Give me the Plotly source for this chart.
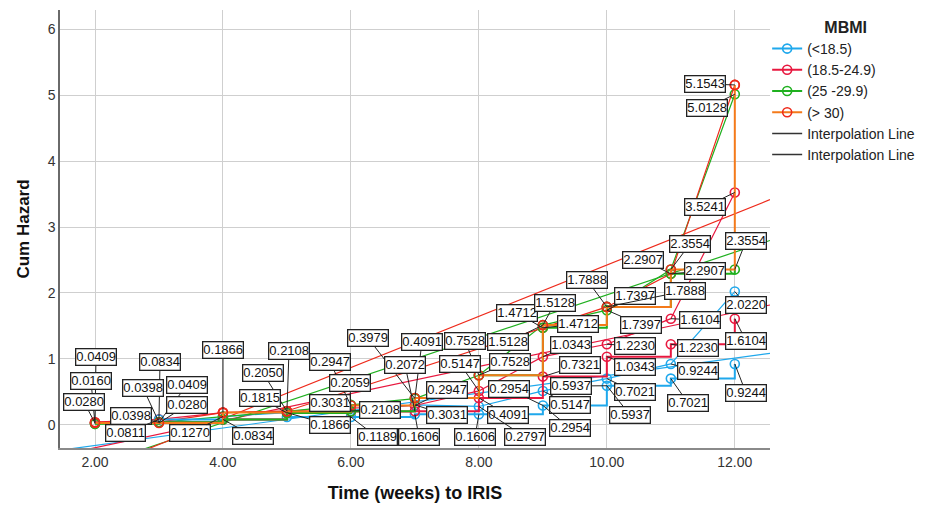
import numpy as np
import plotly.graph_objects as go

# ---------------- data ----------------
times = [2, 3, 4, 5, 6, 7, 8, 9, 10, 11, 12]

cyan_step   = [None, 0.0811, 0.0834, 0.1189, 0.1189, 0.1606, 0.1606, 0.2954, 0.5937, 0.7021, 0.9244]
cyan_line   = [None, None, 0.1270, 0.1866, 0.2108, 0.3031, 0.2797, 0.5147, 0.7021, 0.9244, 2.0220]
crim_step   = [0.0280, 0.0398, 0.0834, 0.1815, 0.2050, 0.2072, 0.4091, 0.7321, 1.0343, 1.2230, 1.6104]
crim_line   = [0.0409, 0.0834, 0.1866, 0.2108, None, 0.2947, 0.5147, 1.0343, 1.2230, 1.6104, 3.5241]
green_step  = [0.0160, 0.0409, 0.0834, 0.1815, 0.2059, 0.4091, 0.7528, 1.4712, 1.7888, 2.2907, 2.3554]
green_line  = [0.0160, 0.0398, 0.1270, 0.2050, 0.3031, 0.3979, 0.7528, 1.5128, 1.7397, 2.3554, 5.0128]
orange_step = [0.0280, 0.0280, 0.1866, 0.2050, 0.2947, 0.4091, 0.7528, 1.5128, 1.7888, 2.3554, 5.1543]
orange_line = [0.0409, 0.0409, 0.1866, 0.2108, None, None, None, 1.4712, 1.7888, 2.2907, 5.1543]

group_names = ["(<18.5)", "(18.5-24.9)", "(25 -29.9)", "(> 30)"]
x_ticks = [2, 4, 6, 8, 10, 12]
y_ticks = [0, 1, 2, 3, 4, 5, 6]

series = {
    "cyan_step": cyan_step, "cyan_line": cyan_line,
    "crim_step": crim_step, "crim_line": crim_line,
    "green_step": green_step, "green_line": green_line,
    "orange_step": orange_step, "orange_line": orange_line,
}

# ---------------- styling ----------------
X0, X1 = 1.453, 12.55
Y0, Y1 = -0.35, 6.29
L, R, T, B = 60, 165, 10, 58
W, H = 935, 506

groups = [
    # name, step key, line key, step colour, line colour, marker colour
    (group_names[0], "cyan_step", "cyan_line", "#1FA8EC", "#1FA8EC", "#1FA8EC"),
    (group_names[1], "crim_step", "crim_line", "#E8183F", "#E8183F", "#E8183F"),
    (group_names[2], "green_step", "green_line", "#1FB01F", "#1FB01F", "#1FB01F"),
    (group_names[3], "orange_step", "orange_line", "#F47A1A", "#EE2A1B", "#EE2A1B"),
]

fig = go.Figure()

# linear fit lines (drawn under everything)
for name, sk, lk, sc, lc, mc in groups:
    xs, ys = [], []
    for key in (sk, lk):
        for t, v in zip(times, series[key]):
            if v is not None:
                xs.append(t)
                ys.append(v)
    b1, b0 = np.polyfit(xs, ys, 1)
    fig.add_trace(go.Scatter(x=[X0, X1], y=[b0 + b1 * X0, b0 + b1 * X1], mode="lines",
                             line=dict(color=lc, width=1.2), showlegend=False,
                             hoverinfo="skip"))

# straight interpolation lines
for name, sk, lk, sc, lc, mc in groups:
    fig.add_trace(go.Scatter(x=times, y=series[lk], mode="lines+markers",
                             connectgaps=True,
                             line=dict(color=lc, width=1.2),
                             marker=dict(symbol="circle-open", size=9, color=mc,
                                         line=dict(width=1.6, color=mc)),
                             showlegend=False))

# step interpolation lines (legend entries)
for name, sk, lk, sc, lc, mc in groups:
    fig.add_trace(go.Scatter(x=times, y=series[sk], mode="lines+markers",
                             line=dict(color=sc, width=2, shape="hv"),
                             marker=dict(symbol="circle-open", size=9, color=mc,
                                         line=dict(width=1.6, color=mc)),
                             name=name, showlegend=True))

fig.add_trace(go.Scatter(x=[None], y=[None], mode="lines",
                         line=dict(color="#333333", width=1.5),
                         name="Interpolation Line"))
fig.add_trace(go.Scatter(x=[None], y=[None], mode="lines",
                         line=dict(color="#333333", width=1.5, shape="hv"),
                         name="Interpolation Line "))

# ---------------- value labels ----------------
# (series, time, label centre in px of the 935x506 picture)
label_specs = [
    ("crim_line", 2, 96, 357), ("green_step", 2, 91, 381), ("orange_step", 2, 84, 402),
    ("crim_line", 3, 160, 362), ("crim_step", 3, 143, 388), ("green_step", 3, 187, 385),
    ("orange_step", 3, 187, 405), ("green_line", 3, 131, 416), ("cyan_step", 3, 125, 433),
    ("orange_step", 4, 223, 350), ("cyan_line", 4, 190, 433), ("cyan_step", 4, 253, 436),
    ("crim_line", 5, 289, 351), ("orange_step", 5, 263, 373), ("green_step", 5, 260, 398),
    ("cyan_line", 5, 330, 425), ("green_line", 6, 330, 403), ("orange_step", 6, 330, 362),
    ("green_step", 6, 350, 383), ("cyan_line", 6, 380, 410), ("cyan_step", 6, 377, 437),
    ("green_line", 7, 368, 338), ("orange_step", 7, 422, 342), ("crim_step", 7, 405, 365),
    ("crim_line", 7, 447, 390), ("cyan_line", 7, 447, 415), ("cyan_step", 7, 419, 437),
    ("green_line", 8, 465, 341), ("crim_line", 8, 460, 364), ("green_line", 9, 508, 342),
    ("orange_step", 8, 510, 362), ("cyan_step", 9, 509, 389), ("crim_step", 8, 508, 415),
    ("cyan_step", 8, 475, 437), ("cyan_line", 8, 525, 437),
    ("orange_line", 9, 517, 313), ("orange_step", 9, 555, 303), ("green_step", 9, 578, 324),
    ("crim_line", 9, 571, 345), ("crim_step", 9, 580, 365), ("cyan_step", 10, 571, 386),
    ("cyan_line", 9, 570, 405), ("cyan_step", 9, 570, 428),
    ("green_step", 10, 587, 280), ("green_line", 10, 635, 296), ("green_line", 10, 641, 325),
    ("crim_line", 10, 635, 346), ("crim_step", 10, 635, 367), ("cyan_line", 10, 635, 392),
    ("cyan_step", 10, 630, 415),
    ("orange_line", 11, 643, 260), ("orange_step", 11, 690, 244), ("green_step", 11, 705, 271),
    ("orange_step", 10, 685, 291), ("crim_line", 11, 700, 320), ("crim_step", 11, 698, 348),
    ("cyan_line", 11, 698, 371), ("cyan_step", 11, 688, 403),
    ("orange_step", 12, 705, 84), ("green_line", 12, 707, 108), ("crim_line", 12, 705, 207),
    ("green_step", 12, 746, 241), ("cyan_line", 12, 746, 305), ("crim_step", 12, 746, 341),
    ("cyan_step", 12, 746, 393),
]


def px_to_data(px, py):
    tx = X0 + (px - L) / (W - L - R) * (X1 - X0)
    ty = Y1 - (py - T) / (H - T - B) * (Y1 - Y0)
    return tx, ty


annotations = []
for key, t, px, py in label_specs:
    v = series[key][times.index(t)]
    ax, ay = px_to_data(px, py)
    annotations.append(dict(
        x=t, y=v, xref="x", yref="y", ax=ax, ay=ay, axref="x", ayref="y",
        text=f"{v:.4f}", showarrow=True, arrowhead=0, arrowwidth=1,
        arrowcolor="#222222", standoff=0,
        font=dict(family="Liberation Sans, Arial", size=13, color="#111111"),
        bgcolor="white", bordercolor="#222222", borderwidth=1.3, borderpad=0,
    ))

fig.update_layout(
    width=W, height=H,
    margin=dict(l=L, r=R, t=T, b=B, autoexpand=False),
    paper_bgcolor="white", plot_bgcolor="white",
    font=dict(family="Liberation Sans, Arial", color="#222222"),
    annotations=annotations,
    legend=dict(
        x=0.996, y=0.995, xanchor="left", yanchor="top",
        font=dict(size=14, color="#222222"),
        title=dict(text="<b>MBMI</b>", side="top center", font=dict(size=16)),
        tracegroupgap=0, itemwidth=30, bgcolor="rgba(0,0,0,0)",
    ),
    xaxis=dict(
        range=[X0, X1], tickvals=x_ticks, tickformat=".2f",
        showgrid=True, gridcolor="#cfcfcf", gridwidth=1, zeroline=False,
        showline=True, linecolor="#8a8a8a", linewidth=1.5, ticks="",
        tickfont=dict(size=14, color="#333333"), automargin=False,
        title=dict(text="<b>Time (weeks) to IRIS</b>", font=dict(size=18, color="#111111"),
                   standoff=18),
    ),
    yaxis=dict(
        range=[Y0, Y1], tickvals=y_ticks,
        showgrid=True, gridcolor="#cfcfcf", gridwidth=1, zeroline=False,
        showline=True, linecolor="#6a6a6a", linewidth=1.5, ticks="",
        tickfont=dict(size=14, color="#333333"), automargin=False,
        title=dict(text="<b>Cum Hazard</b>", font=dict(size=17, color="#111111"),
                   standoff=14),
    ),
)

fig.write_html("out.html", config={"displayModeBar": False},
               post_script="document.body.style.margin='0px';")
